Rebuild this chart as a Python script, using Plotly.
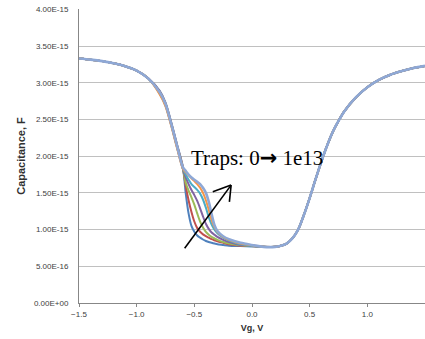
import plotly.graph_objects as go

# ---------------- data ----------------
# Gate voltage grid, V
v_left = [-1.5, -1.4, -1.3, -1.2, -1.1, -1.0, -0.9]
v_mid = [-0.8, -0.75, -0.7, -0.65, -0.6, -0.575, -0.55, -0.525, -0.5, -0.475,
         -0.45, -0.425, -0.4, -0.375, -0.35, -0.325, -0.3, -0.25, -0.2, -0.1, 0.0]
v_right = [0.1, 0.2, 0.25, 0.3, 0.35, 0.4, 0.45, 0.5, 0.55, 0.6, 0.65, 0.7,
           0.75, 0.8, 0.9, 1.0, 1.1, 1.2, 1.3, 1.4, 1.5]

# Capacitance in units of 1e-15 F
c_left = [3.33, 3.315, 3.295, 3.265, 3.225, 3.165, 3.06]
c_right = [0.765, 0.765, 0.78, 0.81, 0.88, 1.0, 1.2, 1.43, 1.68, 1.92, 2.14, 2.33,
           2.48, 2.61, 2.80, 2.94, 3.04, 3.11, 3.16, 3.20, 3.23]

c_mid_trap0 = [2.89, 2.73, 2.46, 2.16, 1.86, 1.50, 1.22, 1.05, 0.97, 0.92,
               0.89, 0.865, 0.845, 0.83, 0.82, 0.81, 0.80, 0.79, 0.78, 0.775, 0.77]
c_mid_trap1 = [2.88, 2.72, 2.45, 2.15, 1.85, 1.60, 1.40, 1.24, 1.11, 1.02,
               0.97, 0.935, 0.91, 0.89, 0.87, 0.855, 0.84, 0.82, 0.80, 0.78, 0.775]
c_mid_trap2 = [2.87, 2.71, 2.44, 2.14, 1.84, 1.64, 1.53, 1.44, 1.34, 1.22,
               1.11, 1.03, 0.97, 0.93, 0.90, 0.88, 0.86, 0.83, 0.81, 0.785, 0.775]
c_mid_trap3 = [2.86, 2.70, 2.43, 2.13, 1.83, 1.71, 1.62, 1.54, 1.47, 1.39,
               1.29, 1.18, 1.08, 1.01, 0.96, 0.93, 0.90, 0.86, 0.83, 0.79, 0.78]
c_mid_trap4 = [2.85, 2.69, 2.42, 2.12, 1.83, 1.75, 1.68, 1.62, 1.58, 1.54,
               1.49, 1.41, 1.30, 1.17, 1.07, 1.00, 0.95, 0.89, 0.85, 0.80, 0.78]
c_mid_trap5 = [2.84, 2.68, 2.41, 2.11, 1.83, 1.78, 1.74, 1.70, 1.66, 1.62,
               1.57, 1.50, 1.40, 1.27, 1.13, 1.03, 0.97, 0.90, 0.86, 0.81, 0.785]
c_mid_trap6 = [2.87, 2.71, 2.44, 2.14, 1.85, 1.80, 1.75, 1.71, 1.68, 1.65,
               1.62, 1.57, 1.50, 1.38, 1.21, 1.06, 0.98, 0.91, 0.87, 0.82, 0.79]

series_mid = [c_mid_trap0, c_mid_trap1, c_mid_trap2, c_mid_trap3,
              c_mid_trap4, c_mid_trap5, c_mid_trap6]
series_colors = ["#4F81BD", "#C0504D", "#9BBB59", "#8064A2",
                 "#4BACC6", "#F79646", "#8EA8D6"]
series_widths = [2, 2, 2, 2, 2, 2, 2.6]

y_tick_vals = [0, 0.5e-15, 1.0e-15, 1.5e-15, 2.0e-15, 2.5e-15, 3.0e-15, 3.5e-15, 4.0e-15]
y_tick_text = ["0.00E+00", "5.00E-16", "1.00E-15", "1.50E-15", "2.00E-15",
               "2.50E-15", "3.00E-15", "3.50E-15", "4.00E-15"]
x_tick_vals = [-1.5, -1.0, -0.5, 0.0, 0.5, 1.0, 1.5]

# annotation geometry (data coords)
label_text = ("Traps: 0<span style='font-family:DejaVu Sans;font-weight:bold'>\u2192</span> 1e13")
label_pos = (-0.55, 1.97e-15)
arrow_tail = (-0.584, 0.746e-15)
arrow_head = (-0.181, 1.606e-15)
arrow_arm1 = (-0.340, 1.514e-15)
arrow_arm2 = (-0.196, 1.378e-15)

# ---------------- figure ----------------
V = v_left + v_mid + v_right
fig = go.Figure()
for mid, col, w in zip(series_mid, series_colors, series_widths):
    c = [val * 1e-15 for val in (c_left + mid + c_right)]
    fig.add_trace(go.Scatter(x=V, y=c, mode="lines",
                             line=dict(color=col, width=w, shape="spline", smoothing=0.8),
                             showlegend=False, hoverinfo="skip"))

fig.add_annotation(x=label_pos[0], y=label_pos[1], text=label_text, showarrow=False,
                   xanchor="left", yanchor="middle",
                   font=dict(family="Liberation Serif, Times New Roman, serif", size=21, color="black"))

for p0, p1 in [(arrow_tail, arrow_head), (arrow_head, arrow_arm1), (arrow_head, arrow_arm2)]:
    fig.add_shape(type="line", xref="x", yref="y", x0=p0[0], y0=p0[1], x1=p1[0], y1=p1[1],
                  line=dict(color="black", width=1.6))

fig.update_layout(
    width=425, height=339,
    margin=dict(l=79, r=0, t=9, b=36),
    paper_bgcolor="white", plot_bgcolor="white",
    font=dict(family="Liberation Sans, Arial, sans-serif", size=8, color="#404040"),
    xaxis=dict(range=[-1.5, 1.5], tickvals=x_tick_vals, tickformat=".1f",
               showgrid=False, zeroline=False,
               showline=True, linecolor="#878787", linewidth=1,
               ticks="outside", ticklen=3, tickcolor="#878787",
               tickfont=dict(size=8, color="#404040"),
               title=dict(text="<b>Vg, V</b>", font=dict(size=9, color="#303030"), standoff=7)),
    yaxis=dict(range=[0, 4.005e-15], tickvals=y_tick_vals, ticktext=y_tick_text,
               showgrid=True, gridcolor="#C0C0C0", gridwidth=1, zeroline=False,
               showline=True, linecolor="#878787", linewidth=1,
               ticks="", ticklabelstandoff=8, tickfont=dict(size=8, color="#404040"),
               title=dict(text="<b>Capacitance, F</b>", font=dict(size=11, color="#303030"), standoff=6)),
)

fig.write_html("out.html", config={"displayModeBar": False},
               post_script="document.body.style.margin='0';")
